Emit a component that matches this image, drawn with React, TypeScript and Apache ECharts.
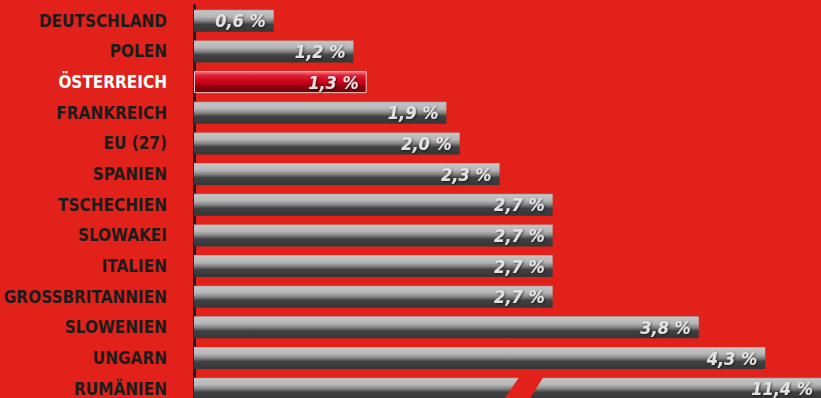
import React, { useEffect, useRef } from "react";
import * as echarts from "echarts";

const categories = [
  "DEUTSCHLAND",
  "POLEN",
  "ÖSTERREICH",
  "FRANKREICH",
  "EU (27)",
  "SPANIEN",
  "TSCHECHIEN",
  "SLOWAKEI",
  "ITALIEN",
  "GROSSBRITANNIEN",
  "SLOWENIEN",
  "UNGARN",
  "RUMÄNIEN",
];
const values = [0.6, 1.2, 1.3, 1.9, 2.0, 2.3, 2.7, 2.7, 2.7, 2.7, 3.8, 4.3, 11.4];
const valueLabels = values.map((v) => v.toFixed(1).replace(".", ",") + " %");
const highlighted = "ÖSTERREICH";
const axisMax = 4.72;
const breakValue = 2.48;

const BG = "#e2211a";
const FONT = "'Liberation Sans Narrow', 'DejaVu Sans Condensed', Arial, sans-serif";

const grayGrad = new echarts.graphic.LinearGradient(0, 0, 0, 1, [
  { offset: 0, color: "#a8a8a8" },
  { offset: 0.06, color: "#c4c4c4" },
  { offset: 0.32, color: "#b6b6b6" },
  { offset: 0.5, color: "#858585" },
  { offset: 0.66, color: "#414143" },
  { offset: 1, color: "#353537" },
]);
const redGrad = new echarts.graphic.LinearGradient(0, 0, 0, 1, [
  { offset: 0, color: "#f2707a" },
  { offset: 0.2, color: "#e01c30" },
  { offset: 0.5, color: "#c80018" },
  { offset: 0.75, color: "#8a0010" },
  { offset: 1, color: "#6a000c" },
]);

export default function App() {
  const ref = useRef<HTMLDivElement>(null);
  useEffect(() => {
    const chart = echarts.init(ref.current!, null, { renderer: "svg" });
    const barH = 22;
    chart.setOption({
      animation: false,
      backgroundColor: BG,
      grid: { left: 194, right: 0, top: 5.5, bottom: 0, containLabel: false },
      xAxis: {
        type: "value",
        min: 0,
        max: axisMax,
        show: false,
      },
      yAxis: {
        type: "category",
        inverse: true,
        offset: 14,
        data: categories.map((c) =>
          c === highlighted ? { value: c, textStyle: { color: "#ffffff" } } : c
        ),
        axisLine: { show: true, lineStyle: { color: "#1e1e1e", width: 3 } },
        axisTick: { show: false },
        axisLabel: {
          margin: 13,
          color: "#1c1c1c",
          fontFamily: FONT,
          fontWeight: "bold",
          fontSize: 17,
        },
        splitLine: { show: false },
      },
      series: [
        {
          type: "bar",
          barWidth: barH,
          data: values.map((v, i) => {
            const isHl = categories[i] === highlighted;
            return {
              value: Math.min(v, axisMax),
              itemStyle: isHl
                ? { color: redGrad, borderColor: "#f3c4c4", borderWidth: 1 }
                : { color: grayGrad },
            };
          }),
          label: {
            show: true,
            position: "insideRight",
            distance: 8,
            formatter: (p: any) => valueLabels[p.dataIndex],
            color: "#e2e2e2",
            fontFamily: FONT,
            fontStyle: "italic",
            fontWeight: "bold",
            fontSize: 18,
            textShadowColor: "rgba(0,0,0,0.6)",
            textShadowBlur: 2,
            textShadowOffsetX: 1,
            textShadowOffsetY: 1,
          },
        },
      ],
    });
    const idx = values.findIndex((v) => v > axisMax);
    if (idx >= 0) {
      const [px, py] = chart.convertToPixel({ gridIndex: 0 }, [breakValue, idx]) as number[];
      const top = py - barH / 2 - 1;
      const bottom = py + barH / 2 + 3;
      chart.setOption({
        graphic: [
          {
            type: "polygon",
            z: 100,
            shape: {
              points: [
                [px - 4, top],
                [px + 20, top],
                [px + 4, bottom],
                [px - 22, bottom],
              ],
            },
            style: { fill: BG },
          },
        ],
      });
    }
    return () => chart.dispose();
  }, []);
  return (
    <div
      ref={ref}
      style={{ position: "fixed", left: 0, top: 0, width: 821, height: 404 }}
    />
  );
}
